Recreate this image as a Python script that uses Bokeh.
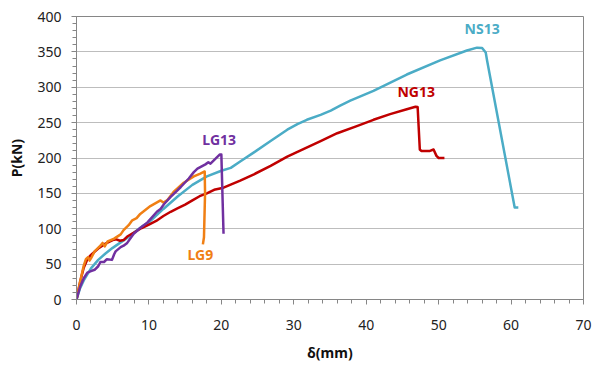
from bokeh.plotting import figure
from bokeh.models import Range1d, SingleIntervalTicker, ColumnDataSource
from bokeh.embed import file_html
from bokeh.resources import INLINE
from bokeh.core.properties import value

# ---- data ----
ns13_x = [0, 0.5, 1, 2, 3, 4, 5, 6, 7, 8, 9, 10, 12, 14, 16, 18, 20, 21.3, 22.6, 24.5, 26.8, 29.1, 30.5, 31.8, 33.7, 35.1, 36.4, 37.8, 41, 45.6, 50.2, 53.9, 55.3, 56.0, 56.5, 56.7, 60.5, 61.0]
ns13_y = [0, 16, 27, 44, 56, 65, 73, 80, 87, 95, 103, 109, 128, 146, 162, 174, 182, 186, 195, 208, 224, 240, 248, 254, 261, 267, 274, 281, 295, 318, 338, 352, 356, 355.5, 349, 337, 130, 130]

ng13_x = [0, 0.5, 1, 1.5, 2, 3, 4, 5, 5.5, 6, 6.5, 7, 8, 9, 10, 11, 12, 13, 14, 15, 16, 17, 18, 19, 20.3, 22.6, 24.5, 26.8, 29.1, 31.4, 33.7, 36, 38.7, 41, 43.3, 45.6, 46.8, 47.1, 47.4, 47.6, 48.8, 49.3, 49.7, 50.0, 50.8]
ng13_y = [0, 25, 45, 57, 63, 72, 79, 84, 85, 83, 84, 89, 95, 101, 106, 111, 118, 124, 129, 134, 140, 146, 150, 155, 158, 168, 177, 189, 202, 213, 224, 235, 245, 254, 262, 269, 272.5, 272, 212, 210, 210, 212, 203, 200, 200]

lg13_x = [0, 0.5, 1, 1.5, 2, 2.5, 3, 3.3, 3.8, 4.2, 4.9, 5.2, 5.4, 6.1, 6.5, 7.0, 7.9, 8.8, 9.3, 9.8, 11.1, 11.6, 12.1, 13.0, 13.9, 14.4, 15.5, 16.2, 16.7, 17.8, 18.2, 18.5, 19.8, 20.0, 20.3]
lg13_y = [0, 18, 30, 38, 40, 42, 47, 53, 53, 57, 56, 64, 68, 74, 76, 80, 93, 101, 105, 109, 124, 128, 135, 145, 154, 159, 171, 180, 185, 191, 194, 192, 205, 205, 93]

lg9_x = [0, 0.5, 1, 1.3, 1.6, 1.8, 2.1, 2.5, 3.3, 3.6, 3.9, 4.3, 5.2, 6.1, 6.5, 7.2, 7.7, 8.3, 8.8, 10.2, 11.6, 12.0, 12.5, 13.4, 14.8, 16.2, 17.1, 17.7, 17.75, 17.6, 17.45]
lg9_y = [0, 25, 48, 57, 60, 55, 60, 68, 76, 80, 75, 82, 86, 92, 98, 105, 112, 115, 121, 132, 140, 137, 140, 152, 165, 174, 178, 181, 150, 88, 78]

labels = ["NS13", "NG13", "LG13", "LG9"]
label_x = [56.0, 46.9, 19.7, 17.1]
label_y = [383, 294, 226, 63]
colors = ["#4BACC6", "#C00000", "#7030A0", "#F07F14"]

# ---- figure ----
p = figure(width=604, height=365, output_backend="svg", toolbar_location=None,
           x_range=Range1d(0, 70), y_range=Range1d(0, 400),
           min_border_left=76, min_border_right=21, min_border_top=16, min_border_bottom=66)

p.outline_line_color = "#868686"
p.outline_line_width = 1
p.background_fill_color = "white"
p.border_fill_color = "white"

p.xaxis.ticker = SingleIntervalTicker(interval=10, num_minor_ticks=5)
p.yaxis.ticker = SingleIntervalTicker(interval=50, num_minor_ticks=5)
p.xgrid.visible = False
p.ygrid.grid_line_color = "#BDBDBD"
p.ygrid.grid_line_width = 1

for ax in (p.xaxis, p.yaxis):
    ax.axis_line_color = "#868686"
    ax.major_tick_line_color = "#868686"
    ax.minor_tick_line_color = "#868686"
    ax.major_tick_in = 0
    ax.major_tick_out = 5
    ax.minor_tick_in = 0
    ax.minor_tick_out = 4
    ax.major_label_text_font = "Noto Sans"
    ax.major_label_text_font_size = "14px"
    ax.major_label_text_color = "#222222"
    ax.axis_label_text_font = "Noto Sans"
    ax.axis_label_text_font_size = "14px"
    ax.axis_label_text_font_style = "bold"
    ax.axis_label_text_color = "#111111"

p.xaxis.axis_label = "δ(mm)"
p.yaxis.axis_label = "P(kN)"
p.xaxis.major_label_standoff = 15
p.yaxis.major_label_standoff = 10
p.xaxis.axis_label_standoff = 10
p.yaxis.axis_label_standoff = 8

series = [(ns13_x, ns13_y), (ng13_x, ng13_y), (lg9_x, lg9_y), (lg13_x, lg13_y)]
series_colors = [colors[0], colors[1], colors[3], colors[2]]
for (xs, ys), c in zip(series, series_colors):
    p.line(xs, ys, line_color=c, line_width=2.5, line_join="round")

src = ColumnDataSource(dict(x=label_x, y=label_y, t=labels, c=colors))
p.text(x="x", y="y", text="t", text_color="c", source=src,
       text_font=value("Noto Sans"), text_font_size="14px", text_font_style="bold",
       text_align="center", text_baseline="middle")

open("out.html", "w").write(file_html(p, INLINE))
